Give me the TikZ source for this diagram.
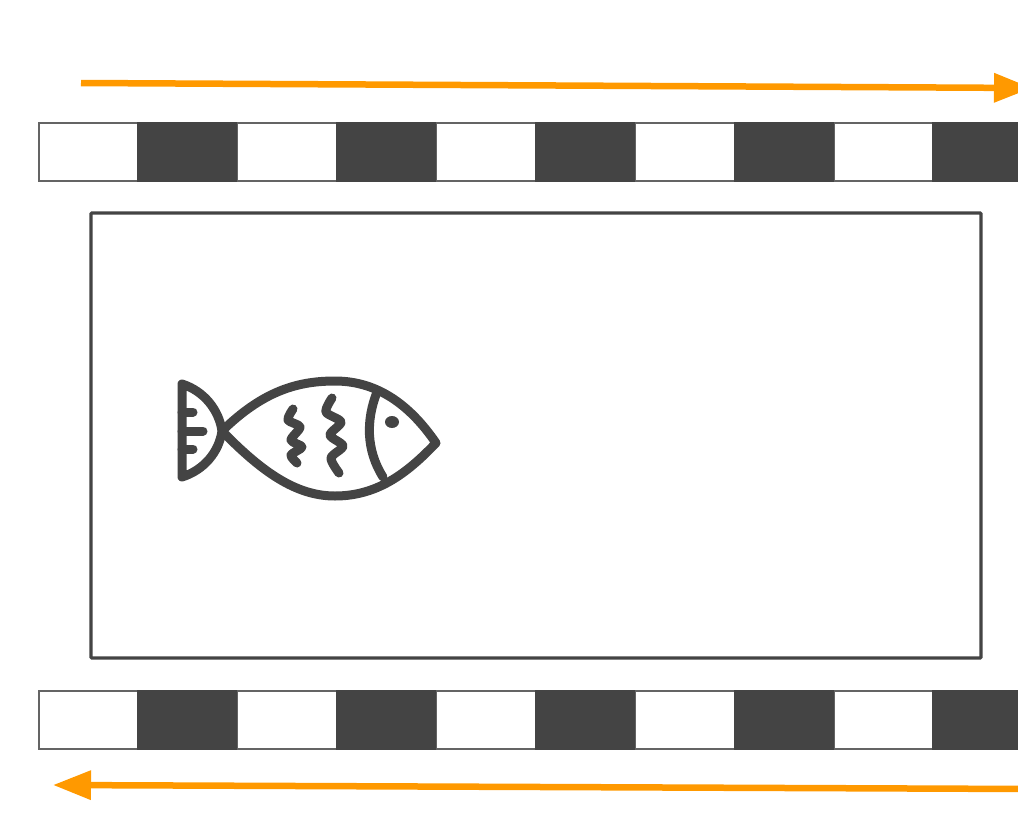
\documentclass[tikz,border=0pt]{standalone}
\usepackage{xcolor}
\usetikzlibrary{arrows.meta, positioning}
\definecolor{darkGrey}{RGB}{68, 68, 68}
\definecolor{edgeGrey}{RGB}{100, 100, 100}
\definecolor{flowOrange}{RGB}{255, 153, 0}

\begin{document}
\begin{tikzpicture}[
    x=1pt,
    y=-1pt,
    node distance=0pt,
    lightcell/.style={
        rectangle,
        minimum width=98.8pt,
        minimum height=58pt,
        inner sep=0pt,
        outer sep=0pt,
        fill=white,
        draw=edgeGrey,
        line width=1.2pt
    },
    darkcell/.style={
        lightcell,
        minimum width=100pt,
        fill=darkGrey,
        draw=darkGrey
    },
    tank/.style={
        rectangle,
        rounded corners=1pt,
        minimum width=890pt,
        minimum height=445pt,
        inner sep=0pt,
        draw=darkGrey,
        line width=3.4pt
    },
    flow/.style={
        -{Triangle[length=38pt,width=28pt]},
        line width=6.5pt,
        color=flowOrange
    },
    fishline/.style={
        draw=darkGrey,
        line width=9pt,
        line cap=round,
        line join=round
    }
]
\useasboundingbox (0,0) rectangle (1018,828);

% Top belt
\node[lightcell, anchor=west] (t1) at (39,152) {};
\node[darkcell, right=of t1] (t2) {};
\node[lightcell, right=of t2] (t3) {};
\node[darkcell, right=of t3] (t4) {};
\node[lightcell, right=of t4] (t5) {};
\node[darkcell, right=of t5] (t6) {};
\node[lightcell, right=of t6] (t7) {};
\node[darkcell, right=of t7] (t8) {};
\node[lightcell, right=of t8] (t9) {};
\node[darkcell, right=of t9] (t10) {};

% Bottom belt
\node[lightcell, anchor=west] (b1) at (39,720) {};
\node[darkcell, right=of b1] (b2) {};
\node[lightcell, right=of b2] (b3) {};
\node[darkcell, right=of b3] (b4) {};
\node[lightcell, right=of b4] (b5) {};
\node[darkcell, right=of b5] (b6) {};
\node[lightcell, right=of b6] (b7) {};
\node[darkcell, right=of b7] (b8) {};
\node[lightcell, right=of b8] (b9) {};
\node[darkcell, right=of b9] (b10) {};

% Tank
\node[tank] (tank1) at (536,435.5) {};

% Arrows
\coordinate (topstart) at (81,83);
\coordinate (topend) at (1032,88);
\coordinate (botstart) at (1032,789);
\coordinate (botend) at (53,785);
\draw[flow] (topstart) -- (topend);
\draw[flow] (botstart) -- (botend);

% Fish
\draw[fishline] (182,384) .. controls (204,391) and (219,410) .. (222,431)
    .. controls (219,452) and (204,470) .. (182,477) -- cycle;
\draw[fishline] (222,431) .. controls (262,392) and (296,381) .. (335,381)
    .. controls (380,381) and (412,408) .. (436,443)
    .. controls (410,470) and (380,496) .. (335,496)
    .. controls (296,496) and (262,472) .. (222,431) -- cycle;
\draw[fishline] (377,392) .. controls (366,420) and (366,450) .. (383,477);
\draw[fishline] (182,412) -- (193,412);
\draw[fishline] (182,431) -- (203,431);
\draw[fishline] (182,449) -- (193,449);
\draw[fishline] plot[smooth] coordinates {(293,409) (288,420) (300,427) (291,440) (302,447) (291,455) (297,463)};
\draw[fishline] plot[smooth] coordinates {(332,398) (326,412) (341,422) (330,435) (343,446) (331,458) (339,473)};
\fill[darkGrey] (392,422) ellipse (7pt and 6pt);

\end{tikzpicture}
\end{document}
